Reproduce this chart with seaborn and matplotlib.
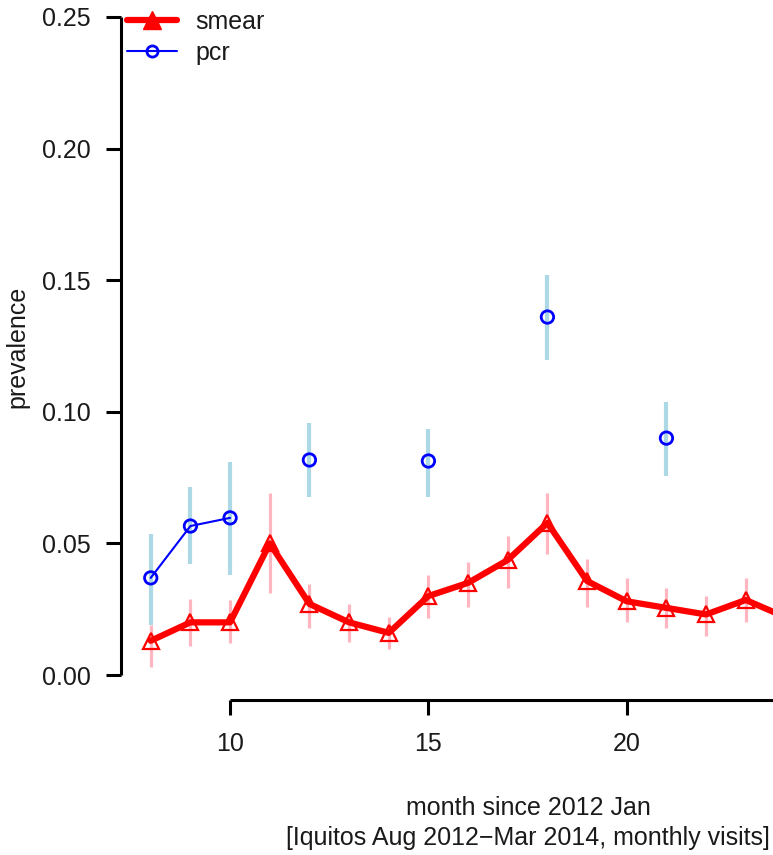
import numpy as np
import pandas as pd
import matplotlib
matplotlib.use("Agg")
import matplotlib.pyplot as plt
from matplotlib.lines import Line2D
import seaborn as sns

# ---- data ----
months = [8, 9, 10, 11, 12, 13, 14, 15, 16, 17, 18, 19, 20, 21, 22, 23, 24]
smear = [0.013, 0.020, 0.020, 0.050, 0.027, 0.020, 0.016, 0.030, 0.035, 0.0437,
         0.0578, 0.0357, 0.028, 0.0255, 0.023, 0.0285, 0.022]
smear_lo = [0.003, 0.011, 0.012, 0.031, 0.018, 0.0125, 0.010, 0.0217, 0.026, 0.033,
            0.046, 0.026, 0.020, 0.018, 0.015, 0.020, 0.014]
smear_hi = [0.019, 0.029, 0.0285, 0.069, 0.0346, 0.027, 0.022, 0.038, 0.043, 0.053,
            0.069, 0.044, 0.037, 0.033, 0.030, 0.037, 0.030]
pcr = [0.0369, 0.0566, 0.0597, np.nan, 0.0817, np.nan, np.nan, 0.0813, np.nan, np.nan,
       0.136, np.nan, np.nan, 0.090, np.nan, np.nan, np.nan]
pcr_lo = [0.019, 0.042, 0.038, np.nan, 0.0676, np.nan, np.nan, 0.0676, np.nan, np.nan,
          0.1197, np.nan, np.nan, 0.0756, np.nan, np.nan, np.nan]
pcr_hi = [0.0536, 0.0714, 0.081, np.nan, 0.0957, np.nan, np.nan, 0.0935, np.nan, np.nan,
          0.152, np.nan, np.nan, 0.1037, np.nan, np.nan, np.nan]
x_ticks = [10, 15, 20]
y_ticks = [0.00, 0.05, 0.10, 0.15, 0.20, 0.25]
y_ticklabels = ["0.00", "0.05", "0.10", "0.15", "0.20", "0.25"]

df = pd.DataFrame({"month": months, "smear": smear, "smear_lo": smear_lo,
                   "smear_hi": smear_hi, "pcr": pcr, "pcr_lo": pcr_lo, "pcr_hi": pcr_hi})

sns.set_style("white")
plt.rcParams["font.family"] = ["Liberation Sans", "DejaVu Sans"]

FS = 18
TXT = "#1a1a1a"
W, H = 773, 855
fig = plt.figure(figsize=(W / 100, H / 100), dpi=100)
ax = fig.add_axes([121 / W, (H - 700) / H, (W - 121) / W, (700 - 17) / H])

# error bars
pc = df.dropna(subset=["pcr"])
ax.vlines(pc["month"], pc["pcr_lo"], pc["pcr_hi"], color="#ADD8E6", lw=3.0, zorder=1)
ax.vlines(df["month"], df["smear_lo"], df["smear_hi"], color="#FFB6C1", lw=2.3, zorder=2)

# smear line
sns.lineplot(data=df, x="month", y="smear", ax=ax, color="red", lw=4.5,
             marker="^", markersize=12, markerfacecolor="none",
             markeredgecolor="red", markeredgewidth=1.6, zorder=3)
# pcr line (breaks at missing months)
ax.plot(df["month"], df["pcr"], color="blue", lw=1.5, zorder=4)
sns.scatterplot(data=pc, x="month", y="pcr", ax=ax, marker="o", s=80,
                facecolor="none", edgecolor="blue", linewidth=2.0, zorder=5)

ax.set_xlim(7.25, 10 + (W - 231) / 39.6)
ax.set_ylim(-25 / 2632, 0.25)

for s in ["top", "right"]:
    ax.spines[s].set_visible(False)
ax.spines["left"].set_bounds(0, 0.25)
ax.spines["bottom"].set_bounds(10, 40)
for s in ["left", "bottom"]:
    ax.spines[s].set_linewidth(2.2)
    ax.spines[s].set_color("black")
    ax.spines[s].set_capstyle("butt")

ax.set_xticks(x_ticks)
ax.set_xticklabels([str(t) for t in x_ticks])
ax.set_yticks(y_ticks)
ax.set_yticklabels(y_ticklabels)
ax.tick_params(axis="both", direction="out", length=10.8, width=2.2, color="black",
               labelsize=FS, labelcolor=TXT)
ax.tick_params(axis="y", pad=11, left=True)
ax.tick_params(axis="x", pad=12, bottom=True)

ax.set_ylabel("prevalence", fontsize=FS, color=TXT)
ax.yaxis.set_label_coords(17 / W, 1 - 347 / H, transform=fig.transFigure)
ax.yaxis.label.set_va("center")
ax.set_xlabel("month since 2012 Jan\n[Iquitos Aug 2012\u2212Mar 2014, monthly visits]",
              fontsize=FS, color=TXT, linespacing=1.3)
ax.xaxis.set_label_coords(528 / W, 1 - 823 / H, transform=fig.transFigure)
ax.xaxis.label.set_va("center")

handles = [
    Line2D([], [], color="red", lw=4.5, marker="^", markersize=13,
           markerfacecolor="red", markeredgecolor="red"),
    Line2D([], [], color="blue", lw=1.5, marker="o", markersize=8,
           markerfacecolor="none", markeredgecolor="blue", markeredgewidth=2.0),
]
fig.legend(handles, ["smear", "pcr"], loc="upper left",
           bbox_to_anchor=(127 / W, 1 - 10 / H), frameon=False, fontsize=FS,
           borderpad=0, borderaxespad=0, handlelength=2.0, handletextpad=0.72,
           labelspacing=0.27, labelcolor=TXT)

fig.savefig("out.png", dpi=100)
